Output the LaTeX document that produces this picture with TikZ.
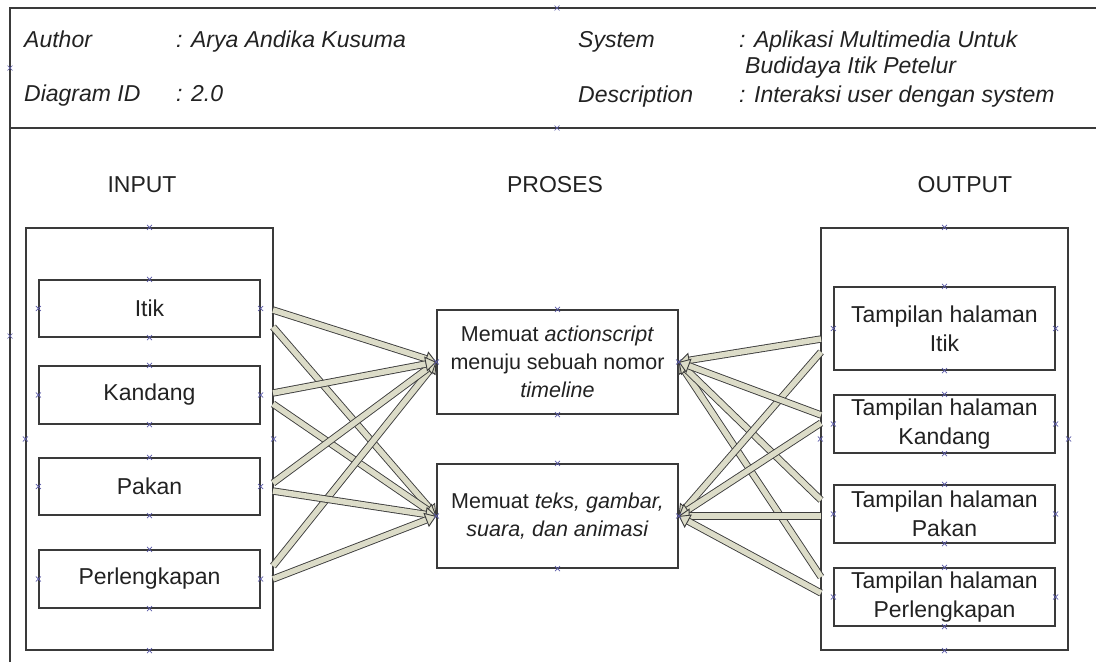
\documentclass[tikz,border=0pt]{standalone}
\usepackage{fontspec}
\setmainfont{Liberation Sans}
\usetikzlibrary{arrows.meta}
\definecolor{linec}{HTML}{3A3A3A}
\definecolor{txtc}{HTML}{222222}
\definecolor{arrfill}{HTML}{DCDCC8}
\definecolor{arrline}{HTML}{3C3C3C}
\definecolor{cpc}{HTML}{5B5BA8}
\newcommand{\cpmark}[1]{\draw[cpstyle] (#1) +(-2.5,-2.5) -- +(2.5,2.5) +(-2.5,2.5) -- +(2.5,-2.5);}
\begin{document}
\begin{tikzpicture}[x=1pt,y=-1pt,
  box/.style={draw=linec, line width=1.2pt, rectangle, inner sep=0pt, align=center,
    text=txtc, font=\fontsize{23}{29}\selectfont},
  cont/.style={draw=linec, line width=1.2pt, rectangle, inner sep=0pt},
  midbox/.style={box, font=\fontsize{21.5}{28}\selectfont},
  hdr/.style={anchor=base west, inner sep=0pt, text=txtc, font=\fontsize{23}{26}\selectfont\itshape},
  title/.style={inner sep=0pt, text=txtc, font=\fontsize{23}{26}\selectfont},
  conn/.style={draw=arrline, line width=0.9pt, double=arrfill, double distance=5.5pt,
    -{Triangle[length=11pt, width=15pt, fill=arrfill]}},
  cpstyle/.style={draw=cpc, line width=0.6pt}
]
\useasboundingbox (0,0) rectangle (1096,662);
% outer frame
\draw[linec, line width=1.3pt] (10,662) -- (10,8) -- (1096,8);
\draw[linec, line width=1.3pt] (10,128) -- (1096,128);

% header
\node[hdr] (hauth) at (24,47) {Author};
\node[hdr] (hauthv) at (176,47) {: Arya Andika Kusuma};
\node[hdr] (hid) at (24,101) {Diagram ID};
\node[hdr] (hidv) at (176,101) {: 2.0};
\node[hdr] (hsys) at (578,47) {System};
\node[hdr] (hsysv) at (739,47) {: Aplikasi Multimedia Untuk};
\node[hdr] (hsysv2) at (745,73) {Budidaya Itik Petelur};
\node[hdr] (hdesc) at (578,102) {Description};
\node[hdr] (hdescv) at (739,102) {: Interaksi user dengan system};

% titles
\node[title] (tin) at (142,185) {INPUT};
\node[title] (tpro) at (555,185) {PROSES};
\node[title] (tout) at (965,185) {OUTPUT};

% containers
\node[cont, minimum width=247pt, minimum height=422pt] (cin) at (149.5,439) {};
\node[cont, minimum width=247pt, minimum height=422pt] (cout) at (944.5,439) {};

% input boxes
\node[box, minimum width=221pt, minimum height=57pt] (in1) at (149.5,308.5) {Itik};
\node[box, minimum width=221pt, minimum height=58pt] (in2) at (149.5,395) {Kandang};
\node[box, minimum width=221pt, minimum height=57pt] (in3) at (149.5,486.5) {Pakan};
\node[box, minimum width=221pt, minimum height=58pt] (in4) at (149.5,579) {Perlengkapan};

% process boxes
\node[midbox, minimum width=241pt, minimum height=104pt] (p1) at (557.5,362)
  {Memuat \textit{actionscript}\\menuju sebuah nomor\\\textit{timeline}};
\node[midbox, minimum width=241pt, minimum height=104pt] (p2) at (557.5,516)
  {Memuat \textit{teks, gambar,}\\\textit{suara, dan animasi}};

% output boxes
\node[box, minimum width=221pt, minimum height=83pt] (o1) at (944.5,328.5) {Tampilan halaman\\Itik};
\node[box, minimum width=221pt, minimum height=58pt] (o2) at (944.5,424) {Tampilan halaman\\Kandang};
\node[box, minimum width=221pt, minimum height=58pt] (o3) at (944.5,514) {Tampilan halaman\\Pakan};
\node[box, minimum width=221pt, minimum height=58pt] (o4) at (944.5,597) {Tampilan halaman\\Perlengkapan};

% connector start points
\coordinate (i1a) at (273,310);
\coordinate (i1b) at (273,327);
\coordinate (i2a) at (273,393);
\coordinate (i2b) at (273,404);
\coordinate (i3a) at (273,483);
\coordinate (i3b) at (273,491);
\coordinate (i4a) at (273,566);
\coordinate (i4b) at (273,579);
\coordinate (o1a) at (821,339);
\coordinate (o1b) at (821,352);
\coordinate (o2a) at (821,415);
\coordinate (o2b) at (821,423);
\coordinate (o3a) at (821,500);
\coordinate (o3b) at (821,516);
\coordinate (o4a) at (821,577);
\coordinate (o4b) at (821,593);

% connectors left
\draw[conn] (i1b) -- (p2.west);
\draw[conn] (i2b) -- (p2.west);
\draw[conn] (i4a) -- (p1.west);
\draw[conn] (i3a) -- (p1.west);
\draw[conn] (i1a) -- (p1.west);
\draw[conn] (i2a) -- (p1.west);
\draw[conn] (i3b) -- (p2.west);
\draw[conn] (i4b) -- (p2.west);
% connectors right
\draw[conn] (o4a) -- (p1.east);
\draw[conn] (o3a) -- (p1.east);
\draw[conn] (o1b) -- (p2.east);
\draw[conn] (o2b) -- (p2.east);
\draw[conn] (o1a) -- (p1.east);
\draw[conn] (o2a) -- (p1.east);
\draw[conn] (o3b) -- (p2.east);
\draw[conn] (o4b) -- (p2.east);

% connection point marks
\foreach \n in {cin,cout,in1,in2,in3,in4,p1,p2,o1,o2,o3,o4}{
  \cpmark{\n.north} \cpmark{\n.south} \cpmark{\n.west} \cpmark{\n.east}
}
\cpmark{10,68} \cpmark{557,8} \cpmark{557,128} \cpmark{10,336}
\end{tikzpicture}
\end{document}
